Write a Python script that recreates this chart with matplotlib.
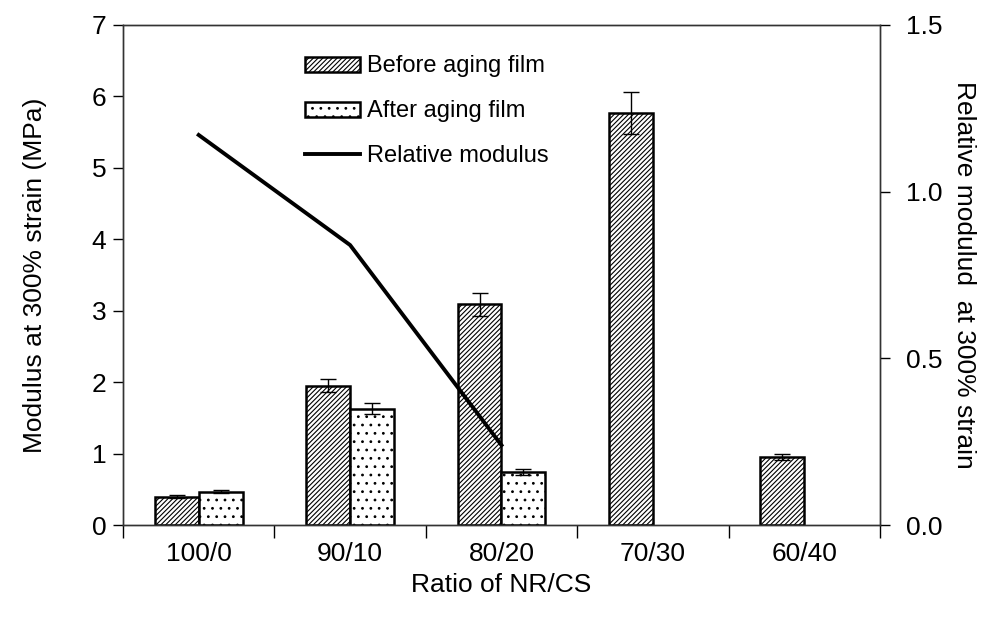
import numpy as np
import matplotlib
matplotlib.use("Agg")
import matplotlib.pyplot as plt

plt.rcParams['font.family'] = ['Liberation Sans', 'DejaVu Sans']
plt.rcParams['hatch.linewidth'] = 0.8

ratios = ["100/0", "90/10", "80/20", "70/30", "60/40"]
before = [0.40, 1.95, 3.09, 5.77, 0.95]
before_err = [0.02, 0.09, 0.16, 0.29, 0.04]
after = [0.47, 1.63, 0.74, np.nan, np.nan]
after_err = [0.02, 0.08, 0.04, np.nan, np.nan]
relative = [1.17, 0.84, 0.24]

fig = plt.figure(figsize=(9.92, 6.23), dpi=100)
ax = fig.add_axes([0.124, 0.157, 0.763, 0.803])
ax2 = ax.twinx()

x = np.arange(len(ratios))
w = 0.29
fs = 19
fs_leg = 17

ax.bar(x - w / 2, before, w, facecolor='white', edgecolor='black', linewidth=1.8,
       hatch='///////', label='Before aging film', zorder=2)
ax.errorbar(x - w / 2, before, yerr=before_err, fmt='none', ecolor='black',
            elinewidth=1, capsize=6, capthick=1, zorder=3)
ax.bar(x + w / 2, after, w, facecolor='white', edgecolor='black', linewidth=1.8,
       hatch='..', label='After aging film', zorder=2)
ax.errorbar(x + w / 2, after, yerr=after_err, fmt='none', ecolor='black',
            elinewidth=1, capsize=6, capthick=1, zorder=3)

ax2.plot(x[:len(relative)], relative, color='black', linewidth=2.8, label='Relative modulus')

ax.set_xlim(-0.5, len(ratios) - 0.5)
ax.set_ylim(0, 7)
ax2.set_ylim(0, 1.5)

ax.set_xticks(x)
ax.set_xticklabels(ratios, fontsize=fs)
ax.set_xticks(np.arange(-0.5, len(ratios)), minor=True)
ax.tick_params(axis='x', which='major', length=0, pad=12)
ax.tick_params(axis='x', which='minor', length=9, direction='out', width=1)
ax.set_yticks(range(0, 8))
ax.tick_params(axis='y', labelsize=fs, length=7, direction='out', width=1, pad=5)

ax2.set_yticks([0.0, 0.5, 1.0, 1.5])
ax2.set_yticklabels(['0.0', '0.5', '1.0', '1.5'])
ax2.tick_params(axis='y', labelsize=fs, length=7, direction='out', width=1, pad=12)

for a in (ax, ax2):
    for s in a.spines.values():
        s.set_linewidth(1)
        s.set_color('#333333')

ax.set_xlabel('Ratio of NR/CS', fontsize=fs, labelpad=5)
ax.set_ylabel('Modulus at 300% strain (MPa)', fontsize=fs, labelpad=32)
ax2.set_ylabel('Relative modulud  at 300% strain', fontsize=fs, rotation=270, labelpad=24)

handles = ax.get_legend_handles_labels()[0][:2] + ax2.get_legend_handles_labels()[0]
labels = ['Before aging film', 'After aging film', 'Relative modulus']
ax2.legend(handles, labels, loc='upper left', bbox_to_anchor=(0.240, 0.939),
           frameon=False, fontsize=fs_leg, handlelength=2.35, handleheight=0.6,
           labelspacing=0.97, handletextpad=0.3, borderpad=0, borderaxespad=0)

fig.savefig('out.png', dpi=100)
